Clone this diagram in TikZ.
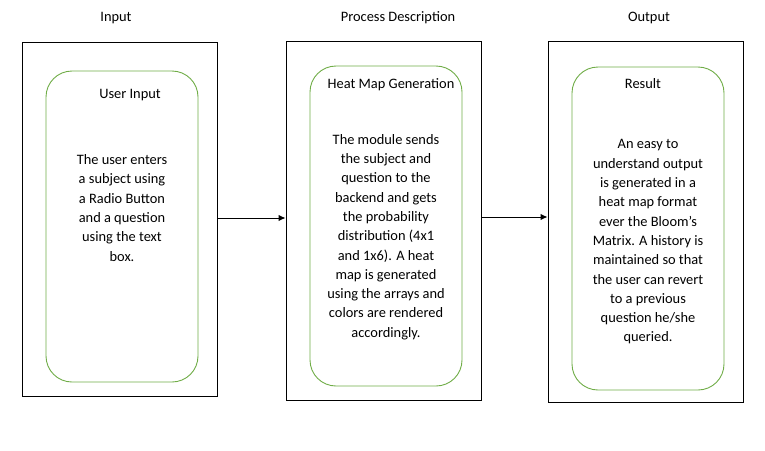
\documentclass[tikz,border=0pt]{standalone}
\usepackage{fontspec}
\setmainfont{Carlito}
\usetikzlibrary{arrows.meta}
\definecolor{officegreen}{HTML}{70AD47}
\begin{document}
\begin{tikzpicture}[x=1pt,y=-1pt,
  outerbox/.style={draw=black,line width=0.95pt,minimum width=195pt,inner sep=0pt},
  innerbox/.style={draw=officegreen,line width=0.9pt,rounded corners=26pt,minimum width=152pt,inner sep=0pt},
  label/.style={font=\fontsize{14.4}{19.3}\selectfont,align=center,inner sep=0pt},
  conn/.style={line width=1pt,-{Latex[length=7pt,width=6.5pt]}}]
\useasboundingbox (0,0) rectangle (765,450);
\fill[white] (0,0) rectangle (765,450);
% outer boxes
\node[outerbox,minimum height=354pt] (b1) at (119.5,219) {};
\node[outerbox,minimum height=359pt] (b2) at (383.5,220.5) {};
\node[outerbox,minimum height=361pt] (b3) at (645.5,221.5) {};
% inner boxes
\node[innerbox,minimum height=311pt] (i1) at (122,226.5) {};
\node[innerbox,minimum height=320pt] (i2) at (386,226) {};
\node[innerbox,minimum height=323pt] (i3) at (648,228.5) {};
% headers
\node[label] (h1) at (116,18) {Input};
\node[label] (h2) at (398,18) {Process Description};
\node[label] (h3) at (649,18) {Output};
% titles
\node[label] (t1) at (130,95) {User Input};
\node[label] (t2) at (391,85) {Heat Map Generation};
\node[label] (t3) at (643,84) {Result};
% body texts
\node[label] (x1) at (122,208) {The user enters\\a subject using\\a Radio Button\\and a question\\using the text\\box.};
\node[label] (x2) at (386,237) {The module sends\\the subject and\\question to the\\backend and gets\\the probability\\distribution (4x1\\and 1x6). A heat\\map is generated\\using the arrays and\\colors are rendered\\accordingly.};
\node[label] (x3) at (648,242) {An easy to\\understand output\\is generated in a\\heat map format\\ever the Bloom’s\\Matrix. A history is\\maintained so that\\the user can revert\\to a previous\\question he/she\\queried.};
% connectors
\draw[conn] ([yshift=1pt]b1.east) -- ([yshift=1pt]b1.east -| b2.west);
\draw[conn] ([yshift=3.5pt]b2.east) -- ([yshift=3.5pt]b2.east -| b3.west);
\end{tikzpicture}
\end{document}
